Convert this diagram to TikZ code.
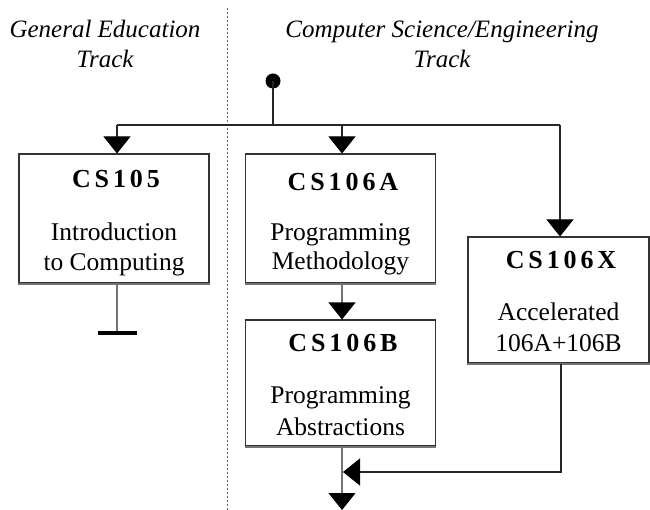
\documentclass[tikz,border=0pt]{standalone}
\usepackage{fontspec}
\setmainfont{Liberation Serif}
\newfontfamily\titlefont{Liberation Serif}[LetterSpace=15]
\usetikzlibrary{arrows.meta}
\begin{document}
\begin{tikzpicture}[x=1pt,y=-1pt,
  boxst/.style={draw=black!80, line width=1.1pt, inner sep=0pt, minimum width=#1},
  boxst/.default=190pt,
  titlest/.style={anchor=base, inner sep=0pt, font=\fontsize{26}{30}\titlefont\bfseries},
  descst/.style={anchor=base, inner sep=0pt, font=\fontsize{25.5}{30}\selectfont},
  hdrst/.style={anchor=base, inner sep=0pt, font=\fontsize{25}{30}\selectfont\itshape},
  conn/.style={draw=black!85, line width=1.1pt},
  stem/.style={draw=black!55, line width=1.3pt},
  shade/.style={draw=black!55, line width=2pt},
  arr/.style={-{Triangle[width=27pt,length=17pt,color=black]}}
]
\useasboundingbox (0,0) rectangle (650,510);

% divider
\coordinate (divtop) at (227,8);
\coordinate (divbot) at (227,510);
\draw[black!60, line width=1pt, dash pattern=on 2pt off 2pt] (divtop) -- (divbot);

% headers
\node[hdrst] (gen1) at (105,38) {General Education};
\node[hdrst] (gen2) at (105,68) {Track};
\node[hdrst] (cse1) at (442,38) {Computer Science/Engineering};
\node[hdrst] (cse2) at (442,68) {Track};

% boxes
\node[boxst, minimum height=129pt] (cs105) at (114,218.5) {};
\node[boxst, minimum height=129pt] (cs106a) at (340.5,218.5) {};
\node[boxst, minimum height=126pt] (cs106b) at (340.5,383) {};
\node[boxst=181pt, minimum height=126pt] (cs106x) at (558.5,300) {};
\draw[shade] (cs105.south west) -- (cs105.south east);
\draw[shade] (cs106a.south west) -- (cs106a.south east);
\draw[shade] (cs106b.south west) -- (cs106b.south east);
\draw[shade] (cs106x.south west) -- (cs106x.south east);

% box texts
\node[titlest] (t105) at (116,188) {CS105};
\node[descst] (d105a) at (114,241) {Introduction};
\node[descst] (d105b) at (114,271) {to Computing};

\node[titlest] (t106a) at (343,191) {CS106A};
\node[descst] (d106aa) at (340.5,241) {Programming};
\node[descst] (d106ab) at (340.5,270) {Methodology};

\node[titlest] (t106b) at (343,352) {CS106B};
\node[descst] (d106ba) at (340.5,403) {Programming};
\node[descst] (d106bb) at (340.5,435) {Abstractions};

\node[titlest] (t106x) at (561,269) {CS106X};
\node[descst] (d106xa) at (558.5,320) {Accelerated};
\node[descst] (d106xb) at (558.5,352) {106A+106B};

% start dot and distribution line
\node[circle, fill=black, inner sep=0pt, minimum width=13pt, minimum height=15pt] (dot) at (273,81) {};
\coordinate (jl) at (117,125);
\coordinate (jm) at (342,125);
\coordinate (jr) at (560,125);
\draw[conn] (dot.center) -- (dot.center |- jl);
\draw[conn] (jl) -- (jr);
\draw[conn,arr] (jl) -- (jl |- cs105.north);
\draw[conn,arr] (jm) -- (jm |- cs106a.north);
\draw[conn,arr] (jr) -- (jr |- cs106x.north);

% CS105 dead end
\coordinate (stop) at (117,333);
\draw[stem] (jl |- cs105.south) -- (stop);
\draw[black, line width=4pt] ([xshift=-19pt]stop) -- ([xshift=20pt]stop);

% CS106A -> CS106B -> out
\coordinate (out) at (342,510);
\draw[stem,arr] (jm |- cs106a.south) -- (jm |- cs106b.north);
\draw[stem,arr] (jm |- cs106b.south) -- (out);

% CS106X -> merge
\coordinate (xdown) at (561,472);
\coordinate (merge) at (343,472);
\draw[conn,arr] (xdown |- cs106x.south) -- (xdown) -- (merge);
\end{tikzpicture}
\end{document}
